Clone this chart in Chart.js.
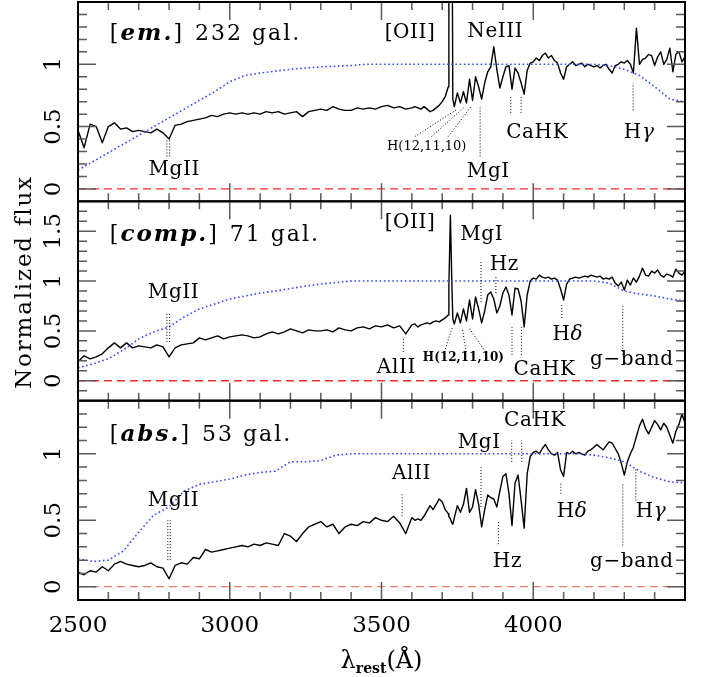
<!DOCTYPE html>
<html>
<head>
<meta charset="utf-8">
<title>Composite spectra</title>
<script src="https://cdn.jsdelivr.net/npm/chart.js@4.4.1/dist/chart.umd.min.js"></script>
<style>
  html, body { margin: 0; padding: 0; background: #fff; }
  canvas { display: block; }
</style>
</head>
<body>
<canvas id="grafico" width="706" height="677"></canvas>
<script>
// rest-frame wavelength grid (Å), shared by the three composite spectra
const wave = [
  2500, 2520, 2540, 2560, 2580, 2600, 2620, 2640, 2660, 2680, 2700, 2720, 2740, 2760, 2780, 2800, 2820, 2840, 2860, 2880, 2900, 2920, 2940, 2960, 2980,
  3000, 3020, 3040, 3060, 3080, 3100, 3120, 3140, 3160, 3180, 3200, 3220, 3240, 3260, 3280, 3300, 3320, 3340, 3360, 3380, 3400, 3420, 3440, 3460, 3480,
  3500, 3520, 3540, 3560, 3580, 3600,
  3610, 3620, 3630, 3640, 3650, 3660, 3670, 3680, 3690, 3700, 3710, 3720,
  3722, 3727, 3732, 3735,
  3740, 3750, 3760, 3770, 3780, 3790, 3800, 3810, 3820, 3830, 3840, 3850, 3860, 3870, 3880, 3890, 3900, 3910, 3920, 3930, 3940, 3950, 3960, 3970, 3980, 3990,
  4000, 4010, 4020, 4030, 4040, 4050, 4060, 4070, 4080, 4090, 4100, 4110, 4120, 4130, 4140, 4150, 4160, 4170, 4180, 4190, 4200, 4210, 4220, 4230, 4240, 4250,
  4260, 4270, 4280, 4290, 4300, 4310, 4320, 4330, 4340, 4350, 4360, 4370, 4380, 4390, 4400, 4410, 4420, 4430, 4440, 4450, 4460, 4470, 4480, 4490, 4500
];

// normalized flux, emission-line galaxies
const fluxEm = [
  0.47, 0.33, 0.52, 0.50, 0.37, 0.50, 0.53, 0.48, 0.49, 0.46, 0.47, 0.46, 0.45, 0.48, 0.45, 0.40, 0.51, 0.52, 0.54, 0.55, 0.56, 0.57, 0.59, 0.58, 0.60,
  0.61, 0.60, 0.61, 0.60, 0.61, 0.60, 0.62, 0.61, 0.62, 0.60, 0.61, 0.62, 0.58, 0.62, 0.63, 0.64, 0.63, 0.66, 0.64, 0.63, 0.63, 0.65, 0.64, 0.65, 0.64,
  0.66, 0.67, 0.65, 0.66, 0.64, 0.65,
  0.66, 0.65, 0.64, 0.66, 0.64, 0.62, 0.63, 0.65, 0.67, 0.70, 0.74, 0.82,
  2.5, 2.5, 2.5, 0.72,
  0.66, 0.77, 0.69, 0.78, 0.69, 0.88, 0.71, 0.90, 0.82, 0.72, 0.85, 0.94, 0.98, 1.14, 0.96, 0.81, 0.90, 0.98, 0.99, 0.80, 0.97, 0.93, 0.85, 0.76, 0.95, 1.01,
  1.02, 1.05, 1.03, 1.07, 1.09, 1.05, 1.07, 1.03, 1.01, 0.93, 0.88, 0.98, 1.00, 1.02, 0.99, 1.00, 1.01, 0.98, 1.00, 0.99, 0.98, 0.99, 0.97, 0.99, 1.00, 0.96,
  0.93, 0.99, 1.00, 1.02, 1.01, 1.03, 1.00, 0.93, 1.29, 1.00, 1.04, 1.05, 1.08, 1.07, 0.99, 1.06, 1.10, 1.00, 1.04, 1.13, 0.94, 1.08, 1.10, 1.02, 1.06
];

// composite galaxies
const fluxComp = [
  0.19, 0.25, 0.22, 0.24, 0.27, 0.33, 0.38, 0.33, 0.38, 0.33, 0.35, 0.34, 0.33, 0.36, 0.34, 0.24, 0.33, 0.36, 0.37, 0.38, 0.43, 0.41, 0.43, 0.45, 0.42,
  0.44, 0.45, 0.46, 0.45, 0.43, 0.44, 0.47, 0.49, 0.47, 0.49, 0.52, 0.50, 0.48, 0.51, 0.50, 0.50, 0.51, 0.49, 0.53, 0.51, 0.50, 0.53, 0.54, 0.52, 0.55,
  0.54, 0.56, 0.53, 0.55, 0.47, 0.56,
  0.57, 0.54, 0.56, 0.57, 0.58, 0.57, 0.59, 0.60, 0.59, 0.61, 0.63, 0.66,
  0.95, 1.66, 0.95, 0.62,
  0.57, 0.68, 0.58, 0.72, 0.60, 0.81, 0.62, 0.84, 0.72, 0.58, 0.70, 0.86, 0.89, 0.82, 0.68, 0.75, 0.88, 0.94, 0.86, 0.66, 0.93, 0.92, 0.80, 0.54, 0.86, 1.00,
  1.03, 1.02, 1.06, 1.04, 1.03, 1.04, 1.02, 1.03, 1.01, 0.92, 0.81, 0.97, 1.02, 1.03, 1.04, 1.03, 1.04, 1.05, 1.04, 1.06, 1.05, 1.04, 1.05, 1.02, 1.03, 1.02,
  1.04, 0.98, 0.95, 0.99, 0.91, 1.01, 0.96, 1.03, 0.99, 1.05, 1.13, 1.06, 1.05, 1.10, 1.08, 1.11, 1.06, 1.04, 1.07, 1.06, 1.04, 1.12, 1.08, 1.06, 1.10
];

// absorption-line galaxies
const fluxAbs = [
  0.11, 0.09, 0.12, 0.11, 0.15, 0.12, 0.17, 0.19, 0.17, 0.16, 0.15, 0.16, 0.18, 0.15, 0.14, 0.06, 0.16, 0.18, 0.17, 0.22, 0.21, 0.28, 0.26, 0.27, 0.28,
  0.29, 0.30, 0.31, 0.30, 0.32, 0.31, 0.33, 0.32, 0.31, 0.40, 0.38, 0.34, 0.40, 0.45, 0.47, 0.49, 0.45, 0.47, 0.40, 0.45, 0.47, 0.46, 0.49, 0.48, 0.52,
  0.50, 0.49, 0.53, 0.48, 0.40, 0.52,
  0.50, 0.51, 0.50, 0.53, 0.57, 0.61, 0.58, 0.62, 0.66, 0.64, 0.58, 0.55,
  0.53, 0.51, 0.48, 0.47,
  0.52, 0.61, 0.56, 0.62, 0.74, 0.56, 0.60, 0.73, 0.62, 0.45, 0.58, 0.69, 0.67, 0.66, 0.60, 0.72, 0.83, 0.85, 0.70, 0.46, 0.78, 0.84, 0.65, 0.44, 0.85, 0.98,
  1.01, 1.02, 1.00, 1.04, 1.07, 1.03, 1.00, 0.99, 1.01, 0.88, 0.83, 1.01, 1.00, 1.02, 1.00, 1.01, 1.00, 0.99, 1.02, 1.03, 1.05, 1.07, 1.05, 1.03, 1.06, 1.09,
  1.08, 1.04, 1.00, 0.93, 0.84, 0.94, 1.00, 1.05, 1.13, 1.21, 1.26, 1.19, 1.15, 1.20, 1.25, 1.22, 1.18, 1.23, 1.20, 1.14, 1.08, 1.17, 1.22, 1.30, 1.23
];

// comparison curves (blue dotted), coarser grid
const blueWave = [
  2500, 2550, 2600, 2650, 2700, 2750, 2800, 2850, 2900, 2950, 3000, 3050, 3100, 3150, 3200, 3250, 3300, 3350, 3400, 3450,
  3500, 3550, 3600, 3650, 3700, 3750, 3800, 3850, 3900, 3950, 4000, 4050, 4100, 4150, 4200, 4250, 4300, 4350, 4400, 4450, 4500
];
const blueEm = [
  0.15, 0.22, 0.29, 0.36, 0.43, 0.50, 0.57, 0.64, 0.71, 0.78, 0.86, 0.91, 0.93, 0.945, 0.96, 0.97, 0.98, 0.985, 0.99, 1.0,
  1.0, 1.0, 1.0, 1.0, 1.0, 1.0, 1.0, 1.0, 1.0, 1.0, 1.0, 1.0, 1.0, 1.0, 1.0, 0.99, 0.96, 0.91, 0.82, 0.72, 0.70
];
const blueComp = [
  0.13, 0.17, 0.22, 0.31, 0.42, 0.49, 0.54, 0.64, 0.72, 0.77, 0.82, 0.85, 0.88, 0.90, 0.925, 0.95, 0.97, 0.985, 1.0, 1.0,
  1.0, 1.0, 1.0, 1.0, 1.0, 1.0, 1.0, 1.0, 1.0, 1.0, 1.0, 1.0, 1.0, 1.0, 1.0, 0.98, 0.90, 0.87, 0.85, 0.82, 0.80
];
const blueAbs = [
  0.21, 0.19, 0.20, 0.27, 0.41, 0.54, 0.60, 0.72, 0.77, 0.79, 0.81, 0.84, 0.86, 0.87, 0.94, 0.94, 0.95, 0.99, 1.0, 1.0,
  1.0, 1.0, 1.0, 1.0, 1.0, 1.0, 1.0, 1.0, 1.0, 1.0, 1.0, 1.0, 1.0, 1.0, 0.99, 0.97, 0.94, 0.87, 0.82, 0.79, 0.78
];

// axis ranges and tick labels
const waveRange = [2500, 4500];
const emRange = [-0.1, 1.5];
const compRange = [-0.2, 1.8];
const absRange = [-0.1, 1.4];
const xTickLabels = [2500, 3000, 3500, 4000];
const emTickLabels = [0, 0.5, 1];
const compTickLabels = [0, 0.5, 1, 1.5];
const absTickLabels = [0, 0.5, 1];

// sample names and sizes
const sampleNames = ['em.', 'comp.', 'abs.'];
const sampleSizes = [232, 71, 53];

// line markers [x0, y0, x1, y1] and their names [text, x, y], in data units
const marksEm = [
  [2793, 0.26, 2793, 0.39], [2802, 0.26, 2802, 0.39],
  [3610, 0.42, 3750, 0.64], [3665, 0.42, 3770, 0.65], [3720, 0.42, 3795, 0.66],
  [3825, 0.26, 3825, 0.66],
  [3926, 0.61, 3926, 0.74], [3960, 0.61, 3960, 0.74],
  [4329, 0.63, 4329, 0.85]
];
const namesEm = [
  ['MgII', 2817, 0.15], ['H(12,11,10)', 3649, 0.34], ['MgI', 3852, 0.14], ['CaHK', 4013, 0.45],
  ['Hγ', 4349, 0.45], ['[OII]', 3594, 1.25], ['NeIII', 3875, 1.26]
];
const marksComp = [
  [2793, 0.39, 2793, 0.69], [2802, 0.39, 2802, 0.69],
  [3572, 0.29, 3572, 0.43],
  [3707, 0.29, 3734, 0.54], [3779, 0.29, 3766, 0.53], [3842, 0.29, 3789, 0.53],
  [3828, 0.79, 3828, 1.21],
  [3877, 0.88, 3877, 1.04],
  [3930, 0.26, 3930, 0.54], [3961, 0.26, 3961, 0.54],
  [4094, 0.63, 4094, 0.76],
  [4295, 0.26, 4295, 0.76]
];
const namesComp = [
  ['MgII', 2815, 0.88], ['AlII', 3549, 0.13], ['H(12,11,10)', 3770, 0.23], ['MgI', 3830, 1.46], ['Hz', 3905, 1.16],
  ['CaHK', 4037, 0.11], ['Hδ', 4114, 0.46], ['g−band', 4325, 0.21], ['[OII]', 3594, 1.58]
];
const marksAbs = [
  [2796, 0.20, 2796, 0.50], [2804, 0.20, 2804, 0.50],
  [3568, 0.53, 3568, 0.70],
  [3828, 0.60, 3828, 0.90],
  [3885, 0.32, 3885, 0.50],
  [3929, 0.94, 3929, 1.10], [3962, 0.94, 3962, 1.10],
  [4091, 0.70, 4091, 0.79],
  [4295, 0.31, 4295, 0.77],
  [4338, 0.65, 4338, 0.89]
];
const namesAbs = [
  ['MgII', 2815, 0.65], ['AlII', 3599, 0.85], ['MgI', 3822, 1.08], ['Hz', 3915, 0.19], ['CaHK', 4006, 1.25],
  ['Hδ', 4128, 0.56], ['g−band', 4325, 0.19], ['Hγ', 4388, 0.56]
];

const headerX = 2605;
const headerY = [1.24, 1.46, 1.14];

const SERIF = '"DejaVu Serif"';

function pts(xs, ys) {
  return xs.map((x, i) => ({ x: x, y: ys[i] }));
}

function spectrum(ys, axis) {
  return { data: pts(wave, ys), yAxisID: axis, borderColor: '#000', borderWidth: 1.4,
           pointRadius: 0, tension: 0, fill: false, borderJoinStyle: 'round' };
}

function comparison(ys, axis) {
  return { data: pts(blueWave, ys), yAxisID: axis, borderColor: '#2f4dff', borderWidth: 1.6,
           borderDash: [1.6, 2.6], pointRadius: 0, tension: 0, fill: false };
}

function zeroLine(axis, color) {
  return { data: pts(waveRange, [0, 0]), yAxisID: axis, borderColor: color, borderWidth: 1.3,
           borderDash: [8, 5], pointRadius: 0, fill: false };
}

function tickLabel(list) {
  return function (value) {
    const hit = list.find(v => Math.abs(v - value) < 1e-6);
    return hit === undefined ? '' : String(hit);
  };
}

function yScale(range, labels) {
  return {
    type: 'linear', position: 'left', stack: 'paineis', stackWeight: 1,
    min: range[0], max: range[1],
    grid: { display: false, drawTicks: false },
    border: { display: false },
    ticks: {
      stepSize: 0.1, autoSkip: false, minRotation: 90, maxRotation: 90, crossAlign: 'center', padding: 6,
      font: { family: 'DejaVu Serif', size: 23 }, color: '#000', callback: tickLabel(labels)
    },
    afterFit: function (s) { s.width = 78; s.paddingTop = 0; s.paddingBottom = 0; }
  };
}

function richParts(text, bold, small) {
  const size = small ? (bold ? 12 : 13) : 20;
  const weight = bold ? 'bold ' : '';
  return Array.from(text).map(ch => ({
    t: ch,
    f: (/[\u0370-\u03ff]/.test(ch) ? 'italic ' : '') + weight + size + 'px ' + SERIF
  }));
}

function drawParts(ctx, parts, x, y, align) {
  let w = 0;
  parts.forEach(p => { ctx.font = p.f; w += ctx.measureText(p.t).width + (p.gap || 0); });
  let cx = align === 'left' ? x : x - w / 2;
  parts.forEach(p => {
    ctx.font = p.f;
    ctx.fillText(p.t, cx, y + (p.dy || 0));
    cx += ctx.measureText(p.t).width + (p.gap || 0);
  });
}

const panels = [
  { id: 'yEm', marks: marksEm, names: namesEm, boldSmall: false, i: 0 },
  { id: 'yComp', marks: marksComp, names: namesComp, boldSmall: true, i: 1 },
  { id: 'yAbs', marks: marksAbs, names: namesAbs, boldSmall: false, i: 2 }
];

// frame, inward ticks, line markers and titles
const moldura = {
  id: 'moldura',
  afterDraw(chart) {
    const { ctx, chartArea: a, scales } = chart;
    const x = scales.x;
    ctx.save();
    panels.forEach(p => {
      const y = scales[p.id];
      ctx.setLineDash([]);
      ctx.strokeStyle = '#5a5a5a';
      ctx.lineWidth = 1.5;
      ctx.beginPath();
      x.ticks.forEach(t => {
        const px = x.getPixelForValue(t.value);
        const len = t.value % 500 === 0 ? 18 : 8;
        ctx.moveTo(px, y.bottom); ctx.lineTo(px, y.bottom - len);
        ctx.moveTo(px, y.top); ctx.lineTo(px, y.top + len);
      });
      y.ticks.forEach(t => {
        const py = y.getPixelForValue(t.value);
        const major = Math.abs(t.value * 2 - Math.round(t.value * 2)) < 1e-6;
        const len = major ? 18 : 9;
        ctx.moveTo(a.left, py); ctx.lineTo(a.left + len, py);
        ctx.moveTo(a.right, py); ctx.lineTo(a.right - len, py);
      });
      ctx.stroke();

      // dotted line markers
      ctx.strokeStyle = '#000';
      ctx.lineWidth = 1;
      ctx.setLineDash([1, 2]);
      ctx.beginPath();
      p.marks.forEach(m => {
        ctx.moveTo(x.getPixelForValue(m[0]), y.getPixelForValue(m[1]));
        ctx.lineTo(x.getPixelForValue(m[2]), y.getPixelForValue(m[3]));
      });
      ctx.stroke();
      ctx.setLineDash([]);

      // line names
      ctx.fillStyle = '#000';
      ctx.textBaseline = 'middle';
      ctx.textAlign = 'left';
      p.names.forEach(n => {
        const small = n[0].startsWith('H(');
        ctx.letterSpacing = small ? '0px' : '0.6px';
        drawParts(ctx, richParts(n[0], p.boldSmall && small, small),
                  x.getPixelForValue(n[1]), y.getPixelForValue(n[2]), 'center');
      });

      // sample header
      ctx.letterSpacing = '2px';
      const reg = '22px ' + SERIF;
      drawParts(ctx, [
        { t: '[', f: reg },
        { t: sampleNames[p.i], f: 'italic bold 23px ' + SERIF },
        { t: ']', f: reg, gap: 11 },
        { t: sampleSizes[p.i] + ' gal.', f: reg }
      ], x.getPixelForValue(headerX), y.getPixelForValue(headerY[p.i]), 'left');
      ctx.letterSpacing = '0px';

      // panel frame
      ctx.strokeStyle = '#000';
      ctx.lineWidth = 2;
      ctx.strokeRect(a.left, y.top, a.right - a.left, y.bottom - y.top);
    });

    // x-axis title: lambda_rest (Å)
    ctx.textBaseline = 'alphabetic';
    drawParts(ctx, [
      { t: 'λ', f: '24px ' + SERIF },
      { t: 'rest', f: 'bold 14px ' + SERIF, dy: 5 },
      { t: '(Å)', f: '24px ' + SERIF }
    ], (a.left + a.right) / 2, 668, 'center');

    // y-axis title
    ctx.translate(25, 282);
    ctx.rotate(-Math.PI / 2);
    ctx.textBaseline = 'middle';
    ctx.textAlign = 'center';
    ctx.letterSpacing = '1.8px';
    ctx.font = '23px ' + SERIF;
    ctx.fillText('Normalized flux', 0, 0);
    ctx.restore();
  }
};

new Chart(document.getElementById('grafico'), {
  type: 'line',
  data: {
    datasets: [
      comparison(blueEm, 'yEm'), zeroLine('yEm', '#ff2a2a'), spectrum(fluxEm, 'yEm'),
      comparison(blueComp, 'yComp'), zeroLine('yComp', '#ff2a2a'), spectrum(fluxComp, 'yComp'),
      comparison(blueAbs, 'yAbs'), zeroLine('yAbs', '#f07a6a'), spectrum(fluxAbs, 'yAbs')
    ]
  },
  options: {
    responsive: false,
    animation: false,
    layout: { padding: { top: 2, right: 21, bottom: 0, left: 0 } },
    plugins: { legend: { display: false }, tooltip: { enabled: false } },
    scales: {
      x: {
        type: 'linear', min: waveRange[0], max: waveRange[1],
        grid: { display: false, drawTicks: false },
        border: { display: false },
        ticks: {
          stepSize: 100, autoSkip: false, maxRotation: 0, padding: 12,
          font: { family: 'DejaVu Serif', size: 23 }, color: '#000', callback: tickLabel(xTickLabels)
        },
        afterFit: function (s) { s.height = 77; s.paddingLeft = 0; s.paddingRight = 0; }
      },
      // stacked panels: the last declared axis is placed on top
      yAbs: yScale(absRange, absTickLabels),
      yComp: yScale(compRange, compTickLabels),
      yEm: yScale(emRange, emTickLabels)
    }
  },
  plugins: [moldura]
});
</script>
</body>
</html>
